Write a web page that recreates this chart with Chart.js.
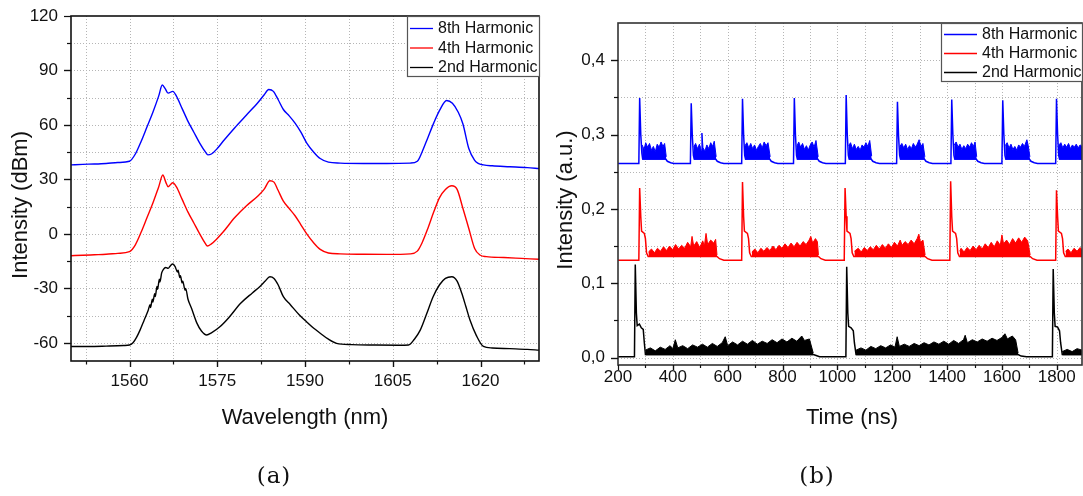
<!DOCTYPE html>
<html><head><meta charset="utf-8">
<script src="https://cdn.jsdelivr.net/npm/chart.js@4/dist/chart.umd.min.js"></script>
<style>
html,body{margin:0;padding:0;background:#fff;}
#wrap{position:relative;width:1083px;height:496px;overflow:hidden;background:#fff;}
canvas{position:absolute;top:0;}
#c1{left:0;} #c2{left:545px;}
</style></head><body>
<div id="wrap"><canvas id="c1" width="545" height="496"></canvas><canvas id="c2" width="538" height="496"></canvas></div>
<script>
// ---------------- DATA ----------------
const seriesNames = ['8th Harmonic', '4th Harmonic', '2nd Harmonic'];
const seriesColors = ['#0000ff', '#ff0000', '#000000'];

// Panel (a): optical spectra, wavelength (nm) vs intensity (dBm)
const wlTicks = [1560, 1575, 1590, 1605, 1620];
const dbTicks = [-60, -30, 0, 30, 60, 90, 120];
const wlGrid = [1552.5, 1560, 1567.5, 1575, 1582.5, 1590, 1597.5, 1605, 1612.5, 1620, 1627.5];
const dbGrid = [-60, -45, -30, -15, 0, 15, 30, 45, 60, 75, 90, 105];

const wlBlue = [1550,1552,1554,1556,1558,1560,1561,1562,1563,1564,1565,1565.6,1566.1,1566.6,1567.4,1568,1569,1570,1571,1572,1573,1573.4,1574,1575,1576,1578,1580,1582,1583,1583.8,1584.6,1585.4,1586.3,1587.3,1588.3,1589.3,1590.3,1591.5,1592.6,1594,1596,1600,1604,1608,1609.2,1610,1611,1612,1613,1614.2,1615.2,1616.2,1617,1618,1619,1619.6,1620.5,1622,1625,1628,1630];
const dbBlue = [38,38.3,38.5,38.8,39.3,40,44,51,59,67,76,82,80,77.5,78.5,76,69,62,56,50,45,43.5,44,47,51,58.5,65.5,72.5,76.5,79.5,78.5,74,68.5,65,61,56,50,45,41.5,39.5,39,38.8,38.8,39,40,45,53,61,68,73.5,72,67,60.5,47,40.5,38.8,38,37.5,37,36.5,36];

const wlRed = [1550,1552,1554,1556,1558,1560,1561,1562,1563,1564,1565,1565.7,1566.2,1566.6,1567.4,1568,1569,1570,1571,1572,1573,1573.3,1574,1575,1576,1578,1580,1582,1583,1584,1584.7,1585.4,1586.3,1587.3,1588.3,1589.3,1590.3,1591.5,1592.6,1594,1596,1600,1604,1608,1609.2,1610,1611,1612,1613,1614,1615.1,1616,1617,1618,1619,1619.9,1621,1624,1627,1630];
const dbRed = [-12,-11.8,-11.5,-11.2,-10.7,-9.8,-6,1,9,17,26,32.4,28.5,26,28.2,26,19,12,6,0,-5.5,-6.7,-5.5,-2.5,1,9,15.5,21,24.5,29.3,28.5,24,18,14,10,5,0,-5,-8.5,-10.5,-11,-11.2,-11.3,-11,-9.5,-5,3,12,20,24.5,26.5,24.5,14,3,-8,-11.6,-12.5,-13,-13.5,-14];

const wlBlack = [1550,1553,1556,1559,1560,1560.6,1561.2,1561.8,1562.5,1563.2,1563.5,1563.6,1563.9,1564.0,1564.3,1564.4,1564.7,1564.8,1565.1,1565.2,1565.5,1565.8,1566.2,1566.6,1567,1567.4,1567.8,1568.2,1568.3,1568.6,1568.7,1569.0,1569.1,1569.5,1569.6,1570,1570.6,1571.5,1572.3,1573.2,1574,1575.5,1577,1579,1581,1582.3,1583.2,1584,1584.7,1585.4,1586.3,1587.5,1589,1590.3,1591.5,1592.6,1594,1595.4,1598,1602,1606,1607.7,1608.7,1609.7,1610.8,1611.9,1613,1614,1615.1,1616,1616.8,1617.5,1618.2,1619.3,1620.5,1622,1625,1628,1630];
const dbBlack = [-62,-62,-61.8,-61.5,-61.2,-60,-57,-53,-47.5,-42,-39,-40.5,-36,-37.5,-33,-34.5,-29,-30.5,-25,-26.5,-21.5,-19.5,-18.5,-19,-17.5,-16.6,-18,-21,-20,-24,-23,-27,-26,-31,-30,-36,-41,-49,-53.5,-55.7,-54.5,-51,-46,-38.2,-32.5,-29,-26,-23.6,-24.5,-28,-34.6,-39,-44.5,-48.5,-52,-54.7,-58,-60.3,-61,-61.2,-61.3,-61.2,-58,-53,-44,-34.6,-28,-24.5,-23.6,-26,-32.7,-40,-47.4,-56,-62,-62.8,-63.2,-63.6,-64];

// Panel (b): pulse trains, time (ns) vs intensity (a.u.)
const timeTicks = [200, 400, 600, 800, 1000, 1200, 1400, 1600, 1800];
const auTicks = [0, 0.1, 0.2, 0.3, 0.4];
const timeGrid = [300, 400, 500, 600, 700, 800, 900, 1000, 1100, 1200, 1300, 1400, 1500, 1600, 1700, 1800];
const auGrid = [0, 0.05, 0.1, 0.15, 0.2, 0.25, 0.3, 0.35, 0.4];

const traceBlue = [[200,0.261],[276,0.261],[279,0.349],[283,0.300],[287,0.275],[290,0.267],[374,0.267],[380,0.264],[392,0.262],[404,0.261],[464,0.261],[467,0.342],[471,0.298],[475,0.272],[478,0.267],[556,0.267],[562,0.264],[574,0.262],[586,0.261],[651,0.261],[654,0.348],[658,0.300],[662,0.272],[665,0.267],[753,0.267],[759,0.264],[771,0.262],[783,0.261],[840,0.261],[843,0.349],[847,0.300],[851,0.272],[854,0.267],[928,0.267],[934,0.264],[946,0.262],[958,0.261],[1029,0.261],[1032,0.353],[1036,0.300],[1040,0.272],[1043,0.267],[1123,0.267],[1129,0.264],[1141,0.262],[1153,0.261],[1216,0.261],[1219,0.344],[1223,0.298],[1227,0.272],[1230,0.267],[1317,0.267],[1323,0.264],[1335,0.262],[1347,0.261],[1414,0.261],[1417,0.347],[1421,0.300],[1425,0.272],[1428,0.267],[1506,0.267],[1512,0.264],[1524,0.262],[1536,0.261],[1600,0.261],[1603,0.346],[1607,0.300],[1611,0.272],[1614,0.267],[1700,0.267],[1706,0.264],[1718,0.262],[1730,0.261],[1796,0.261],[1799,0.348],[1803,0.300],[1807,0.272],[1810,0.267],[1892,0.267]];
const bandsBlue = [
 [[288,0.286],[295,0.280],[301,0.289],[308,0.283],[315,0.288],[322,0.279],[329,0.284],[336,0.277],[343,0.287],[350,0.283],[357,0.290],[364,0.284],[370,0.288],[376,0.270]],
 [[476,0.283],[483,0.288],[490,0.281],[497,0.287],[503,0.279],[506,0.302],[510,0.282],[517,0.278],[524,0.286],[531,0.281],[538,0.289],[545,0.284],[551,0.291],[558,0.270]],
 [[663,0.285],[670,0.289],[677,0.282],[684,0.288],[691,0.281],[698,0.286],[705,0.279],[712,0.284],[719,0.288],[726,0.282],[733,0.290],[740,0.285],[747,0.289],[755,0.270]],
 [[852,0.284],[859,0.290],[866,0.283],[873,0.288],[880,0.280],[887,0.285],[894,0.279],[901,0.286],[908,0.290],[915,0.283],[922,0.292],[930,0.270]],
 [[1041,0.285],[1048,0.289],[1055,0.281],[1062,0.287],[1069,0.280],[1076,0.284],[1083,0.279],[1090,0.286],[1097,0.283],[1104,0.289],[1111,0.284],[1118,0.292],[1125,0.271]],
 [[1228,0.284],[1235,0.288],[1242,0.282],[1249,0.287],[1256,0.280],[1263,0.285],[1270,0.281],[1277,0.288],[1284,0.283],[1291,0.287],[1298,0.293],[1305,0.284],[1312,0.288],[1319,0.270]],
 [[1426,0.286],[1433,0.290],[1440,0.283],[1447,0.287],[1454,0.280],[1461,0.285],[1468,0.281],[1475,0.287],[1482,0.283],[1489,0.289],[1496,0.284],[1502,0.290],[1508,0.270]],
 [[1612,0.285],[1619,0.289],[1626,0.282],[1633,0.287],[1640,0.280],[1647,0.284],[1654,0.279],[1661,0.286],[1668,0.283],[1675,0.288],[1682,0.284],[1691,0.293],[1696,0.285],[1702,0.270]],
 [[1808,0.286],[1815,0.289],[1822,0.282],[1829,0.287],[1836,0.283],[1843,0.288],[1850,0.281],[1857,0.286],[1864,0.283],[1871,0.287],[1878,0.282],[1885,0.286],[1892,0.284]]
];

const traceRed = [[200,0.131],[276,0.131],[279,0.228],[283,0.190],[286,0.170],[296,0.167],[300,0.160],[304,0.141],[310,0.136],[561,0.136],[570,0.133],[586,0.131],[651,0.131],[654,0.236],[658,0.190],[661,0.170],[672,0.167],[676,0.160],[680,0.141],[686,0.136],[931,0.136],[940,0.133],[956,0.131],[1025,0.131],[1028,0.228],[1032,0.190],[1035,0.170],[1046,0.167],[1050,0.160],[1054,0.141],[1060,0.136],[1320,0.136],[1329,0.133],[1345,0.131],[1410,0.131],[1413,0.237],[1417,0.190],[1420,0.170],[1431,0.167],[1435,0.160],[1439,0.141],[1445,0.136],[1703,0.136],[1712,0.133],[1728,0.131],[1796,0.131],[1799,0.225],[1803,0.190],[1806,0.170],[1817,0.167],[1821,0.160],[1825,0.141],[1831,0.136],[1892,0.136]];
const bandsRed = [
 [[311,0.142],[322,0.146],[333,0.141],[344,0.147],[355,0.143],[366,0.149],[377,0.144],[388,0.150],[399,0.145],[410,0.152],[421,0.146],[432,0.151],[443,0.147],[454,0.155],[465,0.149],[470,0.163],[476,0.150],[487,0.156],[498,0.148],[509,0.157],[515,0.150],[521,0.167],[527,0.152],[538,0.158],[549,0.154],[556,0.159],[561,0.138]],
 [[688,0.142],[699,0.146],[710,0.141],[721,0.147],[732,0.143],[743,0.148],[754,0.144],[765,0.150],[776,0.145],[787,0.151],[798,0.147],[809,0.153],[820,0.148],[831,0.154],[842,0.149],[853,0.155],[864,0.150],[875,0.156],[886,0.152],[897,0.158],[903,0.163],[910,0.154],[920,0.160],[927,0.156],[931,0.138]],
 [[1062,0.143],[1076,0.147],[1087,0.142],[1098,0.148],[1109,0.144],[1120,0.149],[1131,0.145],[1142,0.151],[1153,0.146],[1164,0.152],[1175,0.147],[1186,0.153],[1197,0.148],[1208,0.155],[1219,0.150],[1229,0.158],[1236,0.151],[1247,0.156],[1258,0.152],[1269,0.158],[1280,0.153],[1291,0.160],[1297,0.166],[1303,0.155],[1312,0.158],[1320,0.138]],
 [[1446,0.143],[1451,0.147],[1462,0.142],[1473,0.148],[1484,0.144],[1495,0.150],[1506,0.145],[1517,0.151],[1528,0.146],[1539,0.153],[1550,0.148],[1561,0.155],[1572,0.149],[1583,0.157],[1594,0.151],[1600,0.165],[1606,0.153],[1617,0.158],[1628,0.152],[1639,0.160],[1650,0.154],[1661,0.161],[1672,0.155],[1683,0.162],[1694,0.157],[1703,0.138]],
 [[1832,0.143],[1841,0.146],[1852,0.141],[1863,0.147],[1874,0.143],[1885,0.148],[1892,0.145]]
];

const traceBlack = [[200,0.001],[260,0.001],[263,0.125],[267,0.060],[270,0.043],[278,0.045],[285,0.040],[292,0.038],[296,0.020],[300,0.004],[912,0.004],[920,0.003],[935,0.001],[1031,0.001],[1034,0.122],[1038,0.060],[1041,0.042],[1050,0.040],[1058,0.036],[1062,0.020],[1068,0.004],[1659,0.004],[1670,0.002],[1690,0.001],[1784,0.001],[1787,0.119],[1791,0.060],[1794,0.042],[1803,0.041],[1810,0.036],[1814,0.020],[1820,0.004],[1892,0.004]];
const bandsBlack = [
 [[300,0.010],[318,0.013],[336,0.009],[354,0.014],[372,0.011],[390,0.016],[400,0.012],[409,0.024],[418,0.013],[436,0.016],[454,0.012],[472,0.017],[490,0.014],[508,0.018],[526,0.014],[544,0.019],[562,0.015],[580,0.020],[591,0.028],[600,0.016],[618,0.021],[636,0.017],[654,0.022],[672,0.018],[690,0.023],[708,0.018],[726,0.022],[744,0.019],[762,0.024],[780,0.020],[798,0.025],[816,0.021],[834,0.026],[852,0.022],[870,0.029],[880,0.023],[898,0.025],[912,0.006]],
 [[1068,0.010],[1086,0.013],[1104,0.010],[1122,0.015],[1140,0.012],[1158,0.016],[1176,0.013],[1194,0.017],[1210,0.014],[1218,0.028],[1226,0.015],[1244,0.018],[1262,0.015],[1280,0.019],[1298,0.016],[1316,0.020],[1334,0.017],[1352,0.021],[1370,0.018],[1388,0.022],[1406,0.018],[1424,0.023],[1442,0.019],[1460,0.024],[1466,0.030],[1474,0.020],[1492,0.024],[1510,0.021],[1528,0.025],[1546,0.022],[1564,0.026],[1582,0.023],[1600,0.027],[1611,0.032],[1620,0.025],[1638,0.029],[1650,0.024],[1659,0.006]],
 [[1820,0.008],[1838,0.011],[1856,0.008],[1874,0.012],[1892,0.010]]
];
const bandFloor = [0.266, 0.136, 0.003];

// ---------------- HELPERS ----------------
const FONT = "'Liberation Sans', Arial, Helvetica, sans-serif";
const TXT = '#111';
const xy = (xs, ys) => xs.map((x, i) => ({x: x, y: ys[i]}));
const fromPairs = arr => arr.map(p => ({x: p[0], y: p[1]}));
function fromBands(list) {
  const out = [];
  list.forEach((b, i) => {
    if (i > 0) out.push({x: b[0][0] - 0.5, y: null});
    b.forEach(p => out.push({x: p[0], y: p[1]}));
  });
  return out;
}

const decoPlugin = {
  id: 'deco',
  beforeDatasetsDraw(chart, args, o) {
    const ctx = chart.ctx, a = chart.chartArea, xs = chart.scales.x, ys = chart.scales.y;
    ctx.save();
    ctx.strokeStyle = '#b5b5b5'; ctx.lineWidth = 1; ctx.setLineDash([1, 2]);
    o.xGrid.forEach(v => {
      const p = Math.round(xs.getPixelForValue(v)) + 0.5;
      if (p < a.left + 1 || p > a.right - 1) return;
      ctx.beginPath(); ctx.moveTo(p, a.top); ctx.lineTo(p, a.bottom); ctx.stroke();
    });
    o.yGrid.forEach(v => {
      const p = Math.round(ys.getPixelForValue(v)) + 0.5;
      if (p < a.top + 1 || p > a.bottom - 1) return;
      ctx.beginPath(); ctx.moveTo(a.left, p); ctx.lineTo(a.right, p); ctx.stroke();
    });
    ctx.restore();
  },
  afterDatasetsDraw(chart, args, o) {
    const ctx = chart.ctx, a = chart.chartArea, xs = chart.scales.x, ys = chart.scales.y;
    ctx.save();
    ctx.strokeStyle = o.frameColor; ctx.lineWidth = 1.6;
    ctx.strokeRect(a.left, a.top, a.right - a.left, a.bottom - a.top);
    ctx.strokeStyle = '#111'; ctx.lineWidth = 1.2;
    const xMaj = xs.ticks.map(t => t.value), yMaj = ys.ticks.map(t => t.value);
    const near = (arr, v) => arr.some(m => Math.abs(m - v) < 1e-6);
    o.xGrid.concat(xMaj).forEach(v => {
      const p = Math.round(xs.getPixelForValue(v)) + 0.5;
      const len = near(xMaj, v) ? o.xTickMajor : o.xTickMinor;
      ctx.beginPath(); ctx.moveTo(p, a.bottom); ctx.lineTo(p, a.bottom + len); ctx.stroke();
    });
    o.yGrid.concat(yMaj).forEach(v => {
      const p = Math.round(ys.getPixelForValue(v)) + 0.5;
      const len = near(yMaj, v) ? o.yTickMajor : o.yTickMinor;
      ctx.beginPath(); ctx.moveTo(a.left, p); ctx.lineTo(a.left - len, p); ctx.stroke();
    });
    const L = o.legend;
    ctx.fillStyle = '#fff'; ctx.fillRect(L.x, L.y, L.w, L.h);
    ctx.strokeStyle = '#555'; ctx.lineWidth = 1.2; ctx.strokeRect(L.x + 0.5, L.y + 0.5, L.w, L.h);
    ctx.font = '16px ' + FONT; ctx.textBaseline = 'middle'; ctx.textAlign = 'left';
    chart.data.datasets.filter(d => d.label).forEach((d, i) => {
      const y = L.rows[i];
      ctx.strokeStyle = d.borderColor; ctx.lineWidth = 1.3;
      ctx.beginPath(); ctx.moveTo(L.x1, y + 0.5); ctx.lineTo(L.x2, y + 0.5); ctx.stroke();
      ctx.fillStyle = TXT; ctx.fillText(d.label, L.tx, y + 1);
    });
    ctx.restore();
  },
  afterDraw(chart, args, o) {
    const ctx = chart.ctx;
    ctx.save();
    ctx.fillStyle = TXT; ctx.font = '22px ' + FONT;
    ctx.textAlign = 'center'; ctx.textBaseline = 'alphabetic';
    ctx.fillText(o.xTitle.text, o.xTitle.x, o.xTitle.y);
    ctx.save(); ctx.translate(o.yTitle.x, o.yTitle.y); ctx.rotate(-Math.PI / 2);
    ctx.fillText(o.yTitle.text, 0, 0); ctx.restore();
    ctx.font = "23px 'DejaVu Serif', serif";
    try { ctx.letterSpacing = '1px'; } catch (e) {}
    ctx.textBaseline = 'middle';
    ctx.fillText(o.panel.text, o.panel.x, o.panel.y);
    ctx.restore();
  }
};

function makeScale(min, max, tickVals, fmt, fitProp, fitVal, pad) {
  return {
    type: 'linear', min: min, max: max,
    grid: {display: false, drawTicks: false}, border: {display: false},
    afterBuildTicks: s => { s.ticks = tickVals.map(v => ({value: v})); },
    ticks: {font: {family: FONT, size: 17}, color: TXT, padding: pad, autoSkip: false, maxRotation: 0, callback: fmt},
    afterFit: s => { s[fitProp] = fitVal; s.paddingTop = 0; s.paddingBottom = 0; s.paddingLeft = 0; s.paddingRight = 0; }
  };
}

// ---------------- CHART (a) ----------------
new Chart(document.getElementById('c1'), {
  type: 'line',
  data: {
    datasets: [
      {label: seriesNames[0], data: xy(wlBlue, dbBlue), borderColor: seriesColors[0]},
      {label: seriesNames[1], data: xy(wlRed, dbRed), borderColor: seriesColors[1]},
      {label: seriesNames[2], data: xy(wlBlack, dbBlack), borderColor: seriesColors[2]}
    ].map(d => Object.assign(d, {borderWidth: 1.4, pointRadius: 0, cubicInterpolationMode: 'monotone', fill: false}))
  },
  options: {
    responsive: false, animation: false, devicePixelRatio: 1,
    layout: {padding: {left: 0, top: 16, right: 6, bottom: 0}},
    plugins: {
      legend: {display: false}, tooltip: {enabled: false},
      deco: {
        xGrid: wlGrid, yGrid: dbGrid, frameColor: '#111',
        xTickMajor: 6, xTickMinor: 3.5, yTickMajor: 7, yTickMinor: 4,
        legend: {x: 407, y: 16, w: 132, h: 60, x1: 410, x2: 433, tx: 438, rows: [28, 47.5, 67]},
        xTitle: {text: 'Wavelength (nm)', x: 305, y: 424},
        yTitle: {text: 'Intensity (dBm)', x: 27, y: 205},
        panel: {text: '(a)', x: 274, y: 477}
      }
    },
    scales: {
      x: makeScale(1550, 1630, wlTicks, v => String(v), 'height', 135, 10),
      y: makeScale(-70, 120, dbTicks, v => String(v), 'width', 71, 13)
    }
  },
  plugins: [decoPlugin]
});

// ---------------- CHART (b) ----------------
const traces = [traceBlue, traceRed, traceBlack];
const bandSets = [bandsBlue, bandsRed, bandsBlack];
const dsB = [];
traces.forEach((t, i) => dsB.push({label: seriesNames[i], data: fromPairs(t), borderColor: seriesColors[i], borderWidth: 1.5, pointRadius: 0, fill: false}));
bandSets.forEach((b, i) => dsB.push({label: '', data: fromBands(b), borderColor: seriesColors[i], backgroundColor: seriesColors[i], borderWidth: 1, pointRadius: 0, spanGaps: false, fill: {value: bandFloor[i]}}));

new Chart(document.getElementById('c2'), {
  type: 'line',
  data: {datasets: dsB},
  options: {
    responsive: false, animation: false, devicePixelRatio: 1,
    layout: {padding: {left: 0, top: 23, right: 1, bottom: 0}},
    plugins: {
      legend: {display: false}, tooltip: {enabled: false},
      filler: {propagate: false},
      deco: {
        xGrid: timeGrid, yGrid: auGrid, frameColor: '#333',
        xTickMajor: 5, xTickMinor: 3, yTickMajor: 7, yTickMinor: 4,
        legend: {x: 396, y: 23, w: 141, h: 58, x1: 399, x2: 432, tx: 437, rows: [34, 53, 72]},
        xTitle: {text: 'Time (ns)', x: 307, y: 424},
        yTitle: {text: 'Intensity (a.u.)', x: 27, y: 200},
        panel: {text: '(b)', x: 272, y: 477}
      }
    },
    scales: {
      x: makeScale(200, 1892, timeTicks, v => String(v), 'height', 131, 2),
      y: makeScale(-0.01, 0.45, auTicks, v => v.toFixed(1).replace('.', ','), 'width', 73, 13)
    }
  },
  plugins: [decoPlugin]
});
</script>
</body></html>
